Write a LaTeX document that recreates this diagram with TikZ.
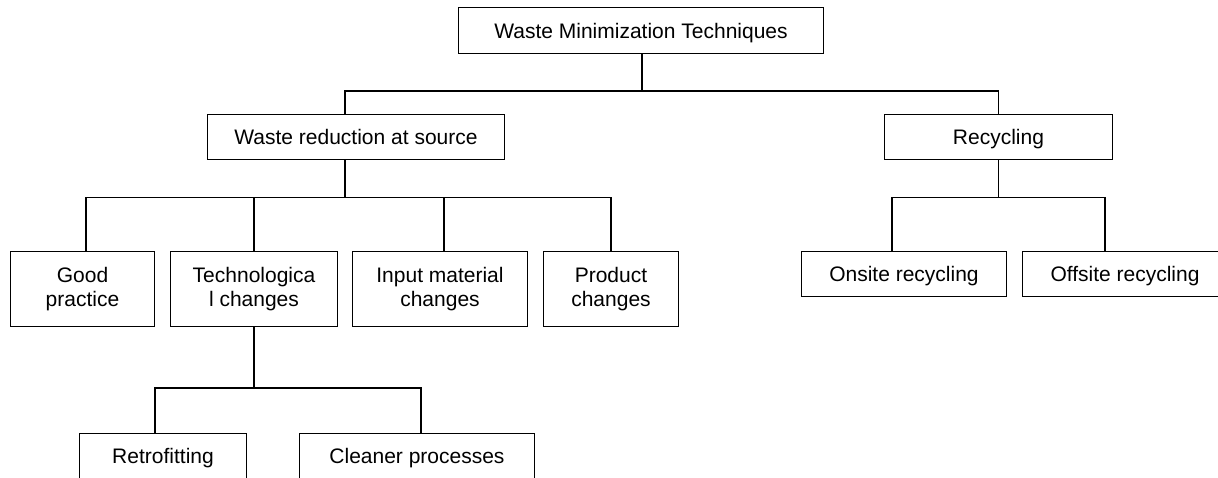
\documentclass[tikz,border=0pt]{standalone}
\usepackage{fontspec}
\setmainfont{Liberation Sans}
\begin{document}
\begin{tikzpicture}[x=1pt,y=-1pt,
  box/.style={draw, line width=1.2pt, inner sep=0pt, align=center,
    font=\fontsize{21}{24}\selectfont},
  oneline/.style={box, text height=15pt, text depth=0pt},
  link/.style={line width=1.2pt}]
\useasboundingbox (0,0) rectangle (1218,477);
\clip (0,0) rectangle (1218,477);

% boxes
\node[oneline, minimum width=365, minimum height=46] (top) at (641,30.5) {Waste Minimization Techniques};
\node[oneline, minimum width=297, minimum height=45] (wrs) at (356,137) {Waste reduction at source};
\node[oneline, minimum width=228, minimum height=45] (rec) at (998.5,137) {Recycling};

\node[box, minimum width=144, minimum height=75] (good) at (82.5,289) {Good\\practice};
\node[box, minimum width=167, minimum height=75] (tech) at (254,289) {Technologica\\l changes};
\node[box, minimum width=175, minimum height=75] (input) at (440,289) {Input material\\changes};
\node[box, minimum width=135, minimum height=75] (prod) at (611,289) {Product\\changes};

\node[oneline, minimum width=205, minimum height=45] (onsite) at (904,274) {Onsite recycling};
\node[oneline, minimum width=205, minimum height=45] (offsite) at (1125,274) {Offsite recycling};

\node[oneline, minimum width=167, minimum height=45, anchor=north] (retro) at (163,433) {Retrofitting};
\node[oneline, minimum width=235, minimum height=45, anchor=north] (clean) at (417,433) {Cleaner processes};

% bus levels
\coordinate (busA) at (0,91);
\coordinate (busB) at (0,197.5);
\coordinate (busC) at (0,388);

% top level
\draw[link] ([xshift=1pt]top.south) -- ([xshift=1pt]top.south |- busA);
\draw[link] ([xshift=-11pt]wrs.north) |- (rec.north |- busA) -- (rec.north);

% waste reduction at source
\draw[link] ([xshift=-11pt]wrs.south) -- ([xshift=-11pt]wrs.south |- busB);
\draw[link] ([xshift=3.5pt]good.north) |- (prod.north |- busB) -- (prod.north);
\draw[link] (tech.north) -- (tech.north |- busB);
\draw[link] ([xshift=4pt]input.north) -- ([xshift=4pt]input.north |- busB);

% technological changes
\draw[link] (tech.south) -- (tech.south |- busC);
\draw[link] ([xshift=-8pt]retro.north) |- ([xshift=4pt]clean.north |- busC) -- ([xshift=4pt]clean.north);

% recycling
\draw[link] (rec.south) -- (rec.south |- busB);
\draw[link] ([xshift=-12pt]onsite.north) |- ([xshift=-20pt]offsite.north |- busB) -- ([xshift=-20pt]offsite.north);
\end{tikzpicture}
\end{document}
